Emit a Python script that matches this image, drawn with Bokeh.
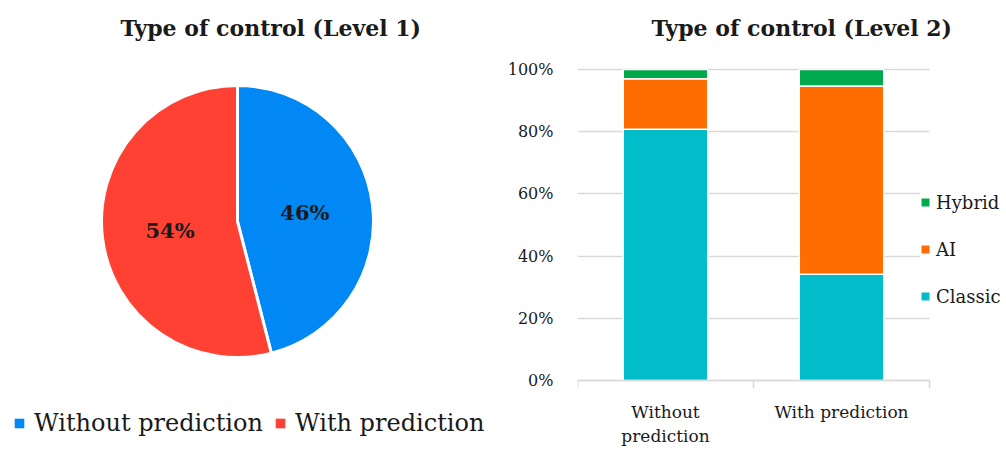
import math
from bokeh.plotting import figure
from bokeh.models import (Range1d, Legend, LegendItem, FixedTicker,
                          NumeralTickFormatter, ColumnDataSource)
from bokeh.layouts import row
from bokeh.embed import file_html
from bokeh.resources import INLINE
from bokeh.core.properties import value

# ---------------- data ----------------
pie_title = "Type of control (Level 1)"
pie_labels = ["Without prediction", "With prediction"]
pie_values = [46, 54]
pie_colors = ["#0288F4", "#FF4133"]

bar_title = "Type of control (Level 2)"
bar_categories = ["Without\nprediction", "With prediction"]
bar_series = ["Classic", "AI", "Hybrid"]
classic = [0.808, 0.342]
ai = [0.162, 0.605]
hybrid = [0.030, 0.053]
bar_colors = ["#00BDC9", "#FF6D00", "#00A94C"]
y_ticks = [0, 0.2, 0.4, 0.6, 0.8, 1.0]

FONT = "DejaVu Serif"
TXT = "#1a1a1a"
H = 450
TOP = 44
NAN = float("nan")


def style_title(p, offset):
    p.title.text_font = FONT
    p.title.text_font_style = "bold"
    p.title.text_font_size = "22px"
    p.title.text_color = TXT
    p.title.align = "left"
    p.title.offset = offset
    p.title.standoff = 8


# ---------------- left: pie ----------------
W1 = 503
p1 = figure(width=W1, height=H, x_range=Range1d(0, W1), y_range=Range1d(0, H - TOP),
            output_backend="svg", toolbar_location=None,
            min_border_left=0, min_border_right=0, min_border_bottom=0, min_border_top=TOP,
            x_axis_type=None, y_axis_type=None, title=pie_title)
p1.grid.visible = False
p1.outline_line_color = None
style_title(p1, 120)

cx, cy, r = 237, H - 221, 136
total = float(sum(pie_values))
starts, ends, lx, ly, txt = [], [], [], [], []
a = math.pi / 2
for v in pie_values:
    s = a
    a -= 2 * math.pi * v / total
    starts.append(s)
    ends.append(a)
    mid = (s + a) / 2
    lx.append(cx + 0.5 * r * math.cos(mid))
    ly.append(cy + 0.5 * r * math.sin(mid))
    txt.append(f"{v}%")

src = ColumnDataSource(dict(start=starts, end=ends, color=pie_colors, label=pie_labels))
p1.wedge(x=cx, y=cy, radius=r, start_angle="start", end_angle="end", direction="clock",
         fill_color="color", line_color="white", line_width=3, source=src)
p1.text(x=lx, y=ly, text=txt, text_font=value(FONT), text_font_style="bold",
        text_font_size="21px", text_align="center", text_baseline="middle", text_color=TXT)

items1 = []
for lbl, col in zip(pie_labels, pie_colors):
    rr = p1.quad(left=[NAN], right=[NAN], top=[NAN], bottom=[NAN], fill_color=col, line_color=None)
    items1.append(LegendItem(label=lbl, renderers=[rr]))
leg1 = Legend(items=items1, orientation="horizontal", location=(13, 13),
              glyph_width=12, glyph_height=12, label_height=28,
              label_text_font=FONT, label_text_font_size="24px", label_text_color=TXT,
              padding=0, margin=0, spacing=11, label_standoff=9,
              border_line_color=None, background_fill_alpha=0)
p1.add_layout(leg1)

# ---------------- right: stacked bars ----------------
W2 = 503
BL = 74
px_per_cat = 176.0
px_per_unit = 311.0
y0_from_bottom = 70.0
frame_h = H - TOP
frame_w = W2 - BL
ncat = len(bar_categories)
p2 = figure(width=W2, height=H, x_range=Range1d(0, frame_w / px_per_cat),
            y_range=Range1d(-y0_from_bottom / px_per_unit, (frame_h - y0_from_bottom) / px_per_unit),
            output_backend="svg", toolbar_location=None,
            min_border_left=BL, min_border_right=0, min_border_top=TOP, min_border_bottom=0,
            title=bar_title)
p2.outline_line_color = None
style_title(p2, 74)

xs = [i + 0.5 for i in range(ncat)]
src2 = ColumnDataSource(dict(x=xs, Classic=classic, AI=ai, Hybrid=hybrid))
p2.vbar_stack(bar_series, x="x", width=0.48, fill_color=bar_colors,
              line_color="white", line_width=1.5, source=src2)

p2.xaxis.fixed_location = 0
p2.xaxis.bounds = (0, ncat)
p2.xaxis.ticker = FixedTicker(ticks=xs, minor_ticks=list(range(ncat + 1)))
p2.xaxis.major_label_overrides = {x: c for x, c in zip(xs, bar_categories)}
p2.xaxis.axis_line_color = "#d9d9d9"
p2.xaxis.axis_line_width = 1.5
p2.xaxis.major_tick_line_color = None
p2.xaxis.minor_tick_line_color = "#d9d9d9"
p2.xaxis.minor_tick_line_width = 1.5
p2.xaxis.minor_tick_in = 0
p2.xaxis.minor_tick_out = 8
p2.xaxis.major_label_standoff = 13
p2.xaxis.major_label_text_font = FONT
p2.xaxis.major_label_text_font_size = "17px"
p2.xaxis.major_label_text_color = TXT

p2.yaxis.ticker = FixedTicker(ticks=y_ticks)
p2.yaxis.formatter = NumeralTickFormatter(format="0%")
p2.yaxis.axis_line_color = None
p2.yaxis.major_tick_line_color = None
p2.yaxis.major_tick_out = 0
p2.yaxis.major_tick_in = 0
p2.yaxis.minor_tick_line_color = None
p2.yaxis.major_label_standoff = 24
p2.yaxis.major_label_text_font = FONT
p2.yaxis.major_label_text_font_size = "16px"
p2.yaxis.major_label_text_color = TXT

p2.xgrid.visible = False
p2.ygrid.grid_line_color = "#d9d9d9"
p2.ygrid.grid_line_width = 1.5
p2.ygrid.cross_bounds = (0, ncat)

items2 = []
for lbl, col in reversed(list(zip(bar_series, bar_colors))):
    rr = p2.quad(left=[NAN], right=[NAN], top=[NAN], bottom=[NAN], fill_color=col, line_color=None)
    items2.append(LegendItem(label=lbl, renderers=[rr]))
leg2 = Legend(items=items2, orientation="vertical", location=(343, 143),
              glyph_width=10, glyph_height=10, label_height=22,
              label_text_font=FONT, label_text_font_size="18px", label_text_color=TXT,
              padding=8, margin=0, spacing=25, label_standoff=6,
              border_line_color=None, background_fill_color="white", background_fill_alpha=1)
p2.add_layout(leg2)

layout = row(p1, p2)
open("out.html", "w").write(file_html(layout, INLINE))
